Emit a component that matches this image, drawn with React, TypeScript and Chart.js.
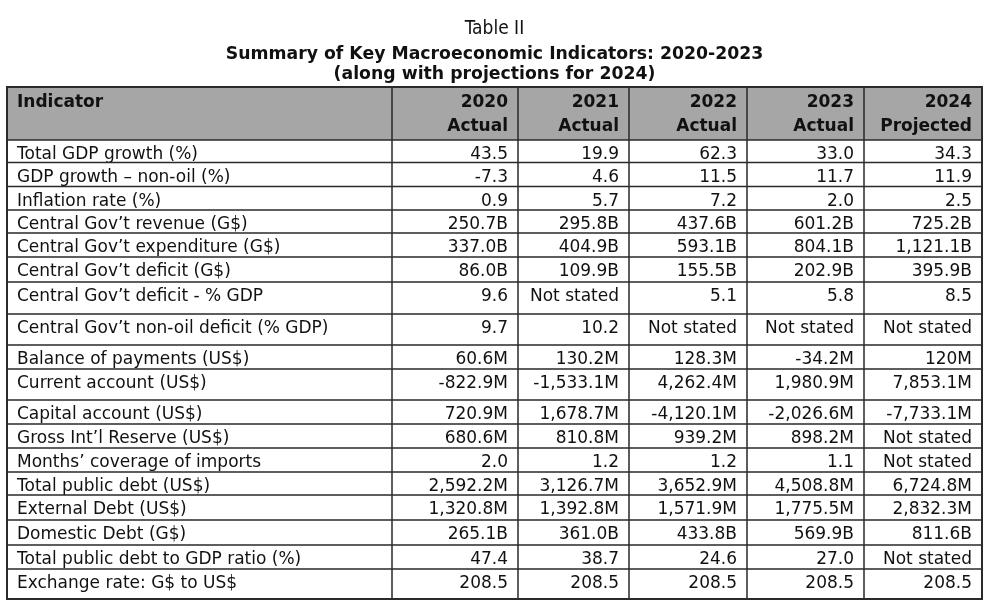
import React, { useEffect, useRef } from 'react';
import { Chart, registerables } from 'chart.js';

Chart.register(...registerables);

// ---------- data ----------
const titleText = 'Table II';
const subtitleLines = [
  'Summary of Key Macroeconomic Indicators: 2020-2023',
  '(along with projections for 2024)',
];
const headerLabel = 'Indicator';
const years = ['2020', '2021', '2022', '2023', '2024'];
const statuses = ['Actual', 'Actual', 'Actual', 'Actual', 'Projected'];
const indicators = [
  'Total GDP growth (%)',
  'GDP growth \u2013 non-oil (%)',
  'Inflation rate (%)',
  'Central Gov\u2019t revenue (G$)',
  'Central Gov\u2019t expenditure (G$)',
  'Central Gov\u2019t deficit (G$)',
  'Central Gov\u2019t deficit - % GDP',
  'Central Gov\u2019t non-oil deficit (% GDP)',
  'Balance of payments (US$)',
  'Current account (US$)',
  'Capital account (US$)',
  'Gross Int\u2019l Reserve (US$)',
  'Months\u2019 coverage of imports',
  'Total public debt (US$)',
  'External Debt (US$)',
  'Domestic Debt (G$)',
  'Total public debt to GDP ratio (%)',
  'Exchange rate: G$ to US$',
];
const values2020 = ['43.5', '-7.3', '0.9', '250.7B', '337.0B', '86.0B', '9.6', '9.7', '60.6M', '-822.9M', '720.9M', '680.6M', '2.0', '2,592.2M', '1,320.8M', '265.1B', '47.4', '208.5'];
const values2021 = ['19.9', '4.6', '5.7', '295.8B', '404.9B', '109.9B', 'Not stated', '10.2', '130.2M', '-1,533.1M', '1,678.7M', '810.8M', '1.2', '3,126.7M', '1,392.8M', '361.0B', '38.7', '208.5'];
const values2022 = ['62.3', '11.5', '7.2', '437.6B', '593.1B', '155.5B', '5.1', 'Not stated', '128.3M', '4,262.4M', '-4,120.1M', '939.2M', '1.2', '3,652.9M', '1,571.9M', '433.8B', '24.6', '208.5'];
const values2023 = ['33.0', '11.7', '2.0', '601.2B', '804.1B', '202.9B', '5.8', 'Not stated', '-34.2M', '1,980.9M', '-2,026.6M', '898.2M', '1.1', '4,508.8M', '1,775.5M', '569.9B', '27.0', '208.5'];
const values2024 = ['34.3', '11.9', '2.5', '725.2B', '1,121.1B', '395.9B', '8.5', 'Not stated', '120M', '7,853.1M', '-7,733.1M', 'Not stated', 'Not stated', '6,724.8M', '2,832.3M', '811.6B', 'Not stated', '208.5'];
const yearValues = [values2020, values2021, values2022, values2023, values2024];

// ---------- layout (table units) ----------
const TABLE_W = 975;
const TABLE_H = 512;
const COL_EDGES = [0, 385, 511, 622, 740, 857, 975];
const HEADER_H = 53;
const ROW_H = [22.5, 24, 23.5, 23, 24, 25, 32, 31, 24, 31, 24, 24, 24, 23, 25, 25, 24, 30];
const PAD_X = 10;
const ROW_BASELINE = 19;
const HEAD_BASE_1 = 20;
const HEAD_BASE_2 = 43.5;

const rowTops: number[] = [];
{
  let t = HEADER_H;
  for (const h of ROW_H) {
    rowTops.push(t);
    t += h;
  }
}

const TEXT_COLOR = '#111111';
const LINE_COLOR = '#2a2a2a';
const HEADER_FILL = '#a6a6a6';
const BODY_FONT = '17px "DejaVu Sans"';
const HEAD_FONT = 'bold 17px "DejaVu Sans"';

const anchorX = (c: number) => (c === 0 ? PAD_X : COL_EDGES[c + 1] - PAD_X);

const tablePlugin = {
  id: 'tablePlugin',
  afterDatasetsDraw(chart: any) {
    const { ctx } = chart;
    const xs = chart.scales.x;
    const ys = chart.scales.y;
    const px = (v: number) => xs.getPixelForValue(v);
    const py = (v: number) => ys.getPixelForValue(v);
    ctx.save();

    // header background
    ctx.fillStyle = HEADER_FILL;
    ctx.fillRect(px(0), py(0), px(TABLE_W) - px(0), py(HEADER_H) - py(0));

    // header text
    ctx.fillStyle = TEXT_COLOR;
    ctx.font = HEAD_FONT;
    ctx.textBaseline = 'alphabetic';
    ctx.textAlign = 'left';
    ctx.fillText(headerLabel, px(PAD_X), py(HEAD_BASE_1));
    ctx.textAlign = 'right';
    years.forEach((yr, i) => {
      const x = px(COL_EDGES[i + 2] - PAD_X);
      ctx.fillText(yr, x, py(HEAD_BASE_1));
      ctx.fillText(statuses[i], x, py(HEAD_BASE_2));
    });

    // body text from dataset elements
    ctx.font = BODY_FONT;
    chart.data.datasets.forEach((ds: any, di: number) => {
      const meta = chart.getDatasetMeta(di);
      ctx.textAlign = di === 0 ? 'left' : 'right';
      meta.data.forEach((el: any, ri: number) => {
        ctx.fillText(ds.cellText[ri], el.x, el.y);
      });
    });

    // grid lines
    ctx.strokeStyle = LINE_COLOR;
    ctx.lineWidth = 1.5;
    ctx.beginPath();
    for (let i = 1; i < COL_EDGES.length - 1; i++) {
      const x = px(COL_EDGES[i]);
      ctx.moveTo(x, py(0));
      ctx.lineTo(x, py(TABLE_H));
    }
    [HEADER_H, ...rowTops.slice(1)].forEach((t) => {
      ctx.moveTo(px(0), py(t));
      ctx.lineTo(px(TABLE_W), py(t));
    });
    ctx.stroke();

    ctx.lineWidth = 2;
    ctx.strokeRect(px(0), py(0), px(TABLE_W) - px(0), py(TABLE_H) - py(0));
    ctx.restore();
  },
};

export default function App() {
  const ref = useRef<HTMLCanvasElement | null>(null);

  useEffect(() => {
    if (!ref.current) return;
    const columns = [indicators, ...yearValues];
    const datasets = columns.map((col, c) => ({
      label: c === 0 ? headerLabel : years[c - 1],
      cellText: col,
      data: col.map((_, r) => ({ x: anchorX(c), y: rowTops[r] + ROW_BASELINE })),
      pointRadius: 0,
      pointHoverRadius: 0,
      showLine: false,
    }));
    const chart = new Chart(ref.current, {
      type: 'scatter',
      data: { datasets } as any,
      options: {
        responsive: false,
        animation: false,
        events: [],
        layout: { padding: { left: 7, right: 10, top: 0, bottom: 10 } },
        scales: {
          x: { type: 'linear', min: 0, max: TABLE_W, display: false },
          y: { type: 'linear', min: 0, max: TABLE_H, reverse: true, display: false },
        },
        plugins: {
          legend: { display: false },
          tooltip: { enabled: false },
          title: {
            display: true,
            text: titleText,
            color: TEXT_COLOR,
            font: { family: '"DejaVu Sans Condensed"', size: 19, weight: 'normal', lineHeight: '23px' } as any,
            padding: { top: 18, bottom: 0 },
          },
          subtitle: {
            display: true,
            text: subtitleLines,
            color: TEXT_COLOR,
            font: { family: '"DejaVu Sans"', size: 17.3, weight: 'bold', lineHeight: '20px' } as any,
            padding: { top: 4, bottom: 2 },
          },
        },
      },
      plugins: [tablePlugin],
    } as any);
    return () => chart.destroy();
  }, []);

  return (
    <div style={{ position: 'absolute', left: 0, top: 0, width: 992, height: 609, background: '#ffffff' }}>
      <canvas ref={ref} width={992} height={609} style={{ width: 992, height: 609, display: 'block' }} />
    </div>
  );
}
